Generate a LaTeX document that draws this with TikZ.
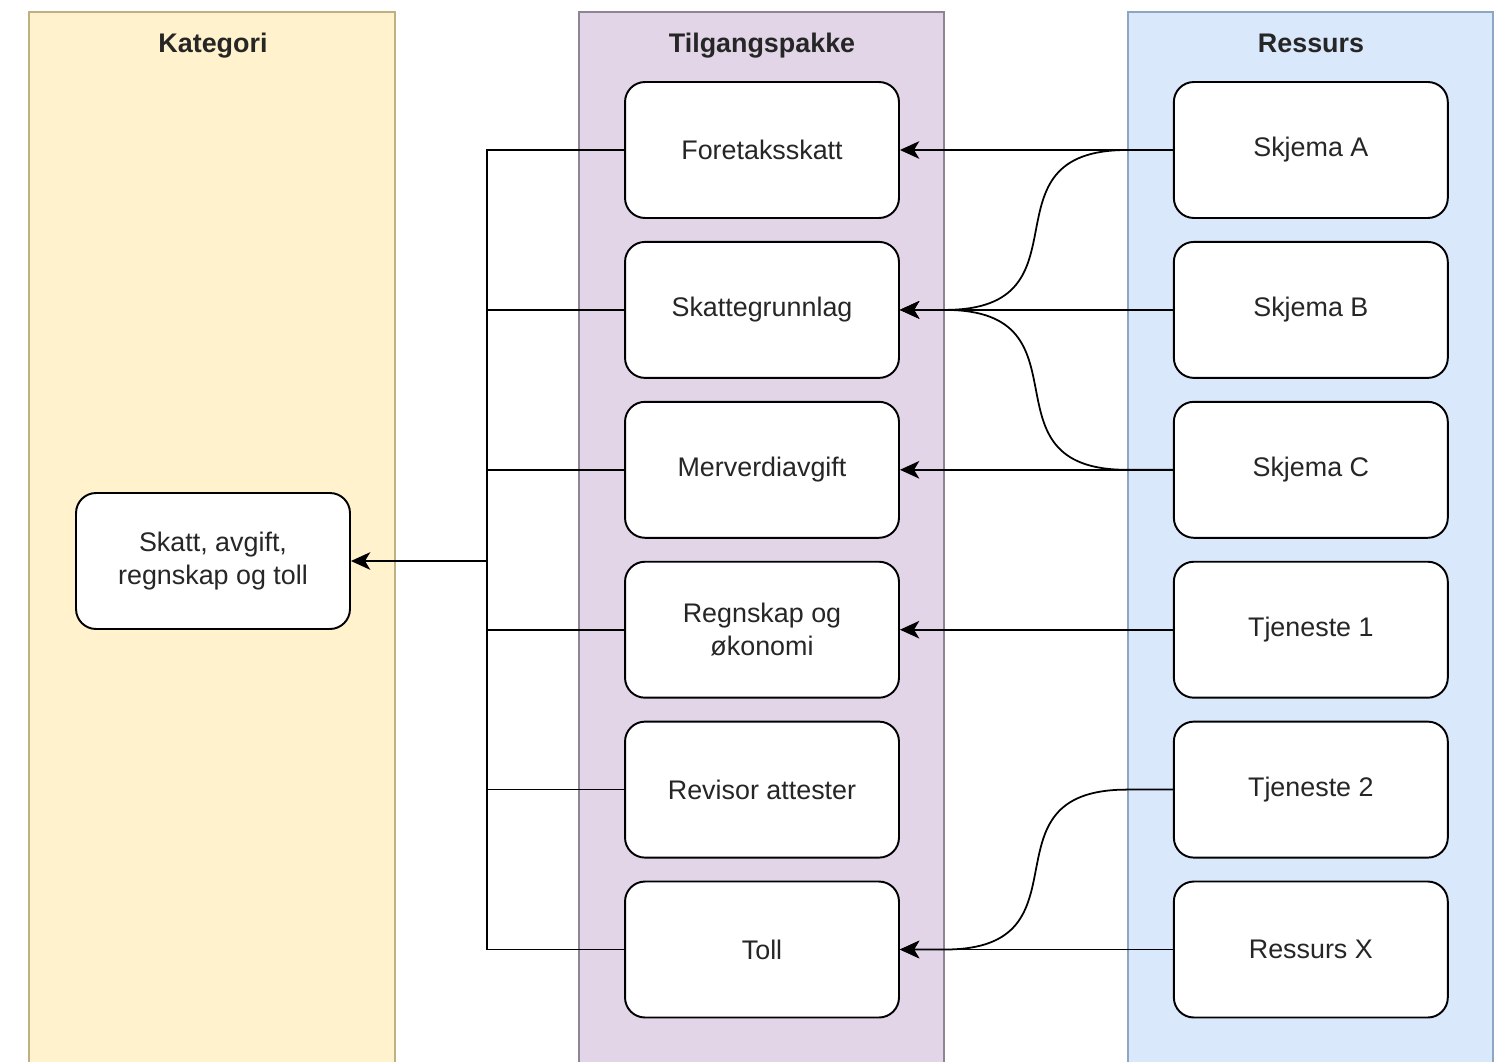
\documentclass[tikz,border=0pt]{standalone}
\usepackage{fontspec}
\setmainfont{Liberation Sans}
\usetikzlibrary{arrows.meta,positioning}

\definecolor{katfyll}{HTML}{FFF2CC}
\definecolor{katkant}{HTML}{BDB184}
\definecolor{pakfyll}{HTML}{E1D5E7}
\definecolor{pakkant}{HTML}{8F8494}
\definecolor{resfyll}{HTML}{DAE8FC}
\definecolor{reskant}{HTML}{8FA5C2}
\definecolor{tekst}{HTML}{262626}

\begin{document}
\begin{tikzpicture}[x=0.02cm,y=-0.02cm,
	boks/.style={draw, line width=1.1pt, fill=white, rounded corners=0.4cm,
		minimum width=5.48cm, minimum height=2.72cm, align=center, text=tekst,
		font=\fontsize{15.3}{19}\selectfont},
	tittel/.style={anchor=base, text=tekst, font=\fontsize{15.3}{18}\selectfont\bfseries},
	pil/.style={-{Stealth[length=11pt,width=10pt,inset=3pt]}, line width=1pt},
	linje/.style={line width=1pt}]
		\clip (0,0) rectangle (1500,1061);

		% Baner
		\filldraw[fill=katfyll, draw=katkant, line width=0.8pt] (29,1070) -- (29,12) -- (395,12) -- (395,1070);
		\filldraw[fill=pakfyll, draw=pakkant, line width=0.8pt] (579,1070) -- (579,12) -- (944,12) -- (944,1070);
		\filldraw[fill=resfyll, draw=reskant, line width=0.8pt] (1128,1070) -- (1128,12) -- (1493,12) -- (1493,1070);
		\node[tittel] (tKategori) at (213,53) {Kategori};
		\node[tittel] (tPakke) at (762,53) {Tilgangspakke};
		\node[tittel] (tRessurs) at (1311,53) {Ressurs};

		% Kategori
		\node[boks] (kategori) at (213,561) {Skatt, avgift,\\regnskap og toll};

		% Tilgangspakker
		\node[boks] (foretak) at (762,150) {Foretaksskatt};
		\node[boks, below=0.44cm of foretak] (grunnlag) {Skattegrunnlag};
		\node[boks, below=0.44cm of grunnlag] (mva) {Merverdiavgift};
		\node[boks, below=0.44cm of mva] (regnskap) {Regnskap og\\økonomi};
		\node[boks, below=0.44cm of regnskap] (revisor) {Revisor attester};
		\node[boks, below=0.44cm of revisor] (toll) {Toll};

		% Ressurser
		\node[boks, right=5.46cm of foretak] (skjemaA) {Skjema A};
		\node[boks, right=5.46cm of grunnlag] (skjemaB) {Skjema B};
		\node[boks, right=5.46cm of mva] (skjemaC) {Skjema C};
		\node[boks, right=5.46cm of regnskap] (tjeneste1) {Tjeneste 1};
		\node[boks, right=5.46cm of revisor] (tjeneste2) {Tjeneste 2};
		\node[boks, right=5.46cm of toll] (ressursX) {Ressurs X};

		% Samleskinne mot kategori
		\coordinate (samle) at (487,561);
		\draw[linje] (foretak.west) -| (samle);
		\draw[linje] (grunnlag.west) -| (samle);
		\draw[linje] (mva.west) -| (samle);
		\draw[linje] (regnskap.west) -| (samle);
		\draw[linje] (revisor.west) -| (samle);
		\draw[linje] (toll.west) -| (samle);
		\draw[pil] (samle) -- (kategori.east);

		% Ressurs til tilgangspakke (rette)
		\draw[pil] (skjemaA.west) -- (foretak.east);
		\draw[pil] (skjemaB.west) -- (grunnlag.east);
		\draw[pil] (skjemaC.west) -- (mva.east);
		\draw[pil] (tjeneste1.west) -- (regnskap.east);
		\draw[pil] (ressursX.west) -- (toll.east);

		% Ressurs til tilgangspakke (buede)
		\draw[pil] (skjemaA.west) -- ++(-0.92cm,0) to[out=180, in=0, looseness=1.6] ([xshift=0.9cm]grunnlag.east) -- (grunnlag.east);
		\draw[pil] (skjemaC.west) -- ++(-0.92cm,0) to[out=180, in=0, looseness=1.6] ([xshift=0.9cm]grunnlag.east) -- (grunnlag.east);
		\draw[pil] (tjeneste2.west) -- ++(-0.92cm,0) to[out=180, in=0, looseness=1.6] ([xshift=0.9cm]toll.east) -- (toll.east);
	\end{tikzpicture}
\end{document}
